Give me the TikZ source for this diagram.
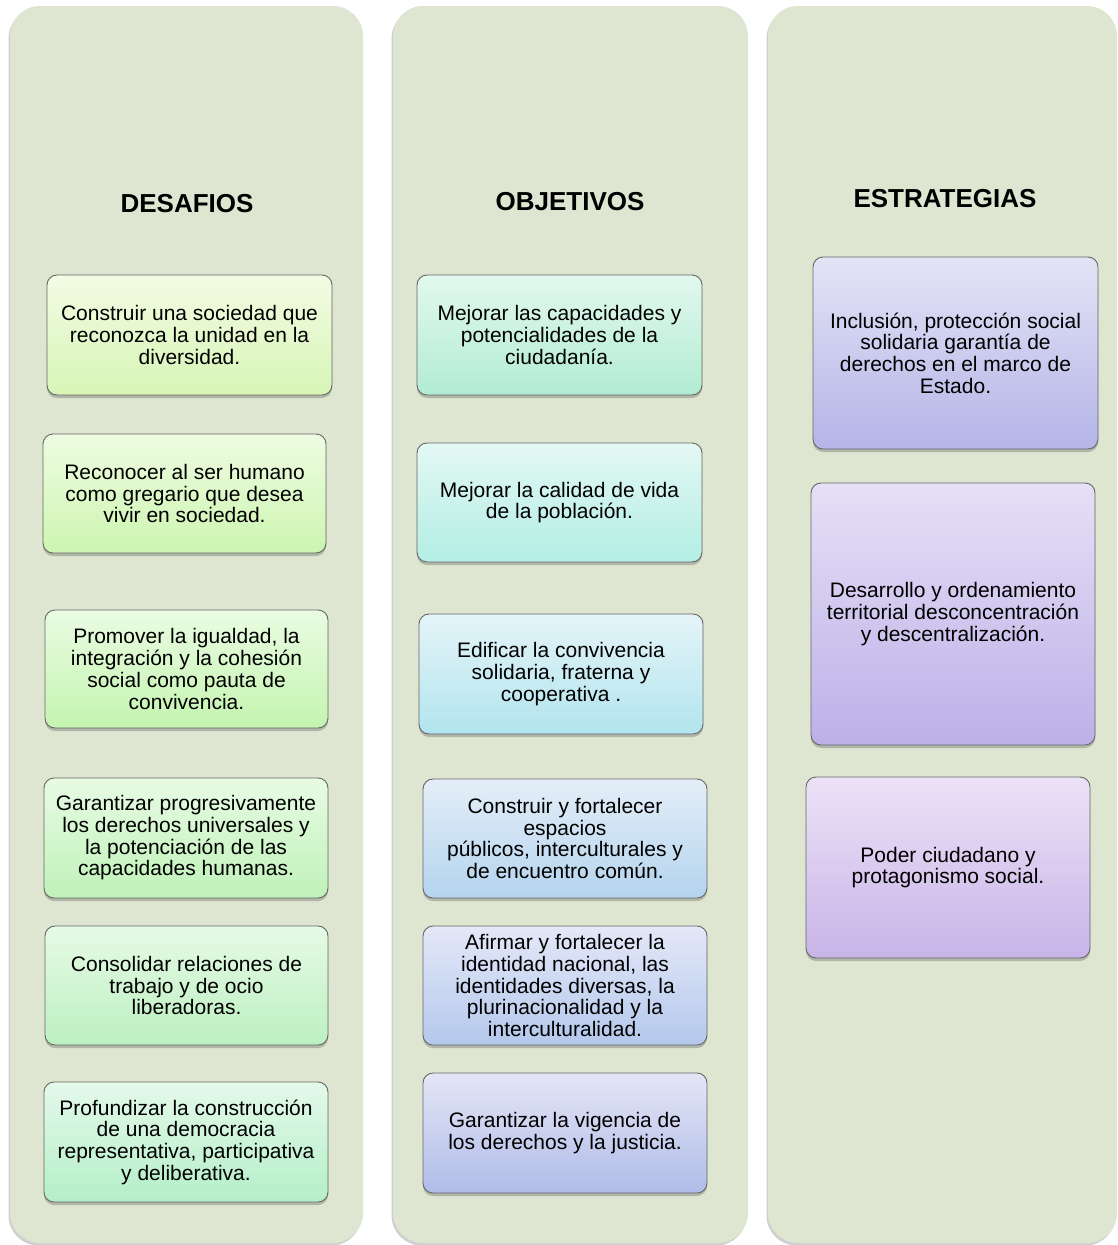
\documentclass[tikz,border=0pt]{standalone}
\usepackage{fontspec}
\setmainfont{Liberation Sans}
\usetikzlibrary{shadows}
\definecolor{colbg}{RGB}{222,230,209}
\definecolor{aT}{HTML}{F2FCE4}\definecolor{aB}{HTML}{D8F5B6}
\definecolor{bT}{HTML}{EEFCE2}\definecolor{bB}{HTML}{CDF5B0}
\definecolor{cT}{HTML}{EAFCE2}\definecolor{cB}{HTML}{C4F4B0}
\definecolor{dT}{HTML}{E8FBE4}\definecolor{dB}{HTML}{BFF2B8}
\definecolor{eT}{HTML}{E6FAE6}\definecolor{eB}{HTML}{BCF0C0}
\definecolor{fT}{HTML}{E4F9EA}\definecolor{fB}{HTML}{B4EFC8}
\definecolor{gT}{HTML}{E2F8EE}\definecolor{gB}{HTML}{B2ECD4}
\definecolor{hT}{HTML}{E4F8F4}\definecolor{hB}{HTML}{B2EEE4}
\definecolor{iT}{HTML}{E4F4F8}\definecolor{iB}{HTML}{B2E4EE}
\definecolor{jT}{HTML}{E4EEF8}\definecolor{jB}{HTML}{B4D4EE}
\definecolor{kT}{HTML}{E4E8F8}\definecolor{kB}{HTML}{B4C8EC}
\definecolor{lT}{HTML}{E4E6F6}\definecolor{lB}{HTML}{B0BCE8}
\definecolor{mT}{HTML}{E4E4F6}\definecolor{mB}{HTML}{B4B4E8}
\definecolor{nT}{HTML}{E6E0F6}\definecolor{nB}{HTML}{BCB0E8}
\definecolor{oT}{HTML}{ECE2F6}\definecolor{oB}{HTML}{C8B4E8}
\newcommand\mkbox[8]{\node[item, minimum width=#4pt, minimum height=#5pt, top color=#6, bottom color=#7] (#1) at (#2,#3) {#8};}
\begin{document}
\begin{tikzpicture}[x=1pt,y=-1pt,
  colbox/.style={draw=none, fill=colbg, rounded corners=30pt, inner sep=0pt,
    drop shadow={shadow xshift=-1.5pt, shadow yshift=-2.5pt, opacity=0.3, fill=black!60}},
  item/.style={draw=black!60, line width=0.9pt, rounded corners=10pt, align=center,
    font=\fontsize{21}{21.7}\selectfont, inner sep=0pt,
    drop shadow={shadow xshift=0pt, shadow yshift=-3pt, opacity=0.3, fill=black!70}},
  head/.style={font=\fontsize{26}{30}\selectfont\bfseries, anchor=base}]
\useasboundingbox (0,0) rectangle (1117,1245);
\fill[white] (0,0) rectangle (1117,1245);
% columns
\node[colbox, minimum width=353pt, minimum height=1237pt] (c1) at (186.5,624.5) {};
\node[colbox, minimum width=355pt, minimum height=1237pt] (c2) at (570.5,624.5) {};
\node[colbox, minimum width=349pt, minimum height=1237pt] (c3) at (942.5,624.5) {};
% headings
\node[head] (h1) at (187,212) {DESAFIOS};
\node[head] (h2) at (570,210) {OBJETIVOS};
\node[head] (h3) at (945,207) {ESTRATEGIAS};
% column 1
\mkbox{d1}{189.5}{335}{285}{120}{aT}{aB}{Construir una sociedad que\\reconozca la unidad en la\\diversidad.}
\mkbox{d2}{184.5}{493.5}{283}{119}{bT}{bB}{Reconocer al ser humano\\como gregario que desea\\vivir en sociedad.}
\mkbox{d3}{186.5}{669}{283}{118}{cT}{cB}{Promover la igualdad, la\\integración y la cohesión\\social como pauta de\\convivencia.}
\mkbox{d4}{186}{838}{284}{120}{dT}{dB}{Garantizar progresivamente\\los derechos universales y\\la potenciación de las\\capacidades humanas.}
\mkbox{d5}{186.5}{985.5}{283}{119}{eT}{eB}{Consolidar relaciones de\\trabajo y de ocio\\liberadoras.}
\mkbox{d6}{186}{1142}{284}{120}{fT}{fB}{Profundizar la construcción\\de una democracia\\representativa, participativa\\y deliberativa.}
% column 2
\mkbox{o1}{559.5}{335}{285}{120}{gT}{gB}{Mejorar las capacidades y\\potencialidades de la\\ciudadanía.}
\mkbox{o2}{559.5}{502.5}{285}{119}{hT}{hB}{Mejorar la calidad de vida\\de la población.}
\mkbox{o3}{561}{674}{284}{120}{iT}{iB}{Edificar la convivencia\\solidaria, fraterna y\\cooperativa .}
\mkbox{o4}{565}{838.5}{284}{119}{jT}{jB}{Construir y fortalecer\\espacios\\públicos, interculturales y\\de encuentro común.}
\mkbox{o5}{565}{985.5}{284}{119}{kT}{kB}{Afirmar y fortalecer la\\identidad nacional, las\\identidades diversas, la\\plurinacionalidad y la\\interculturalidad.}
\mkbox{o6}{565}{1133}{284}{120}{lT}{lB}{Garantizar la vigencia de\\los derechos y la justicia.}
% column 3
\mkbox{e1}{955.5}{353}{285}{192}{mT}{mB}{Inclusión, protección social\\solidaria garantía de\\derechos en el marco de\\Estado.}
\mkbox{e2}{953}{614}{284}{262}{nT}{nB}{Desarrollo y ordenamiento\\territorial desconcentración\\y descentralización.}
\mkbox{e3}{948}{867.5}{284}{181}{oT}{oB}{Poder ciudadano y\\protagonismo social.}
\end{tikzpicture}
\end{document}
